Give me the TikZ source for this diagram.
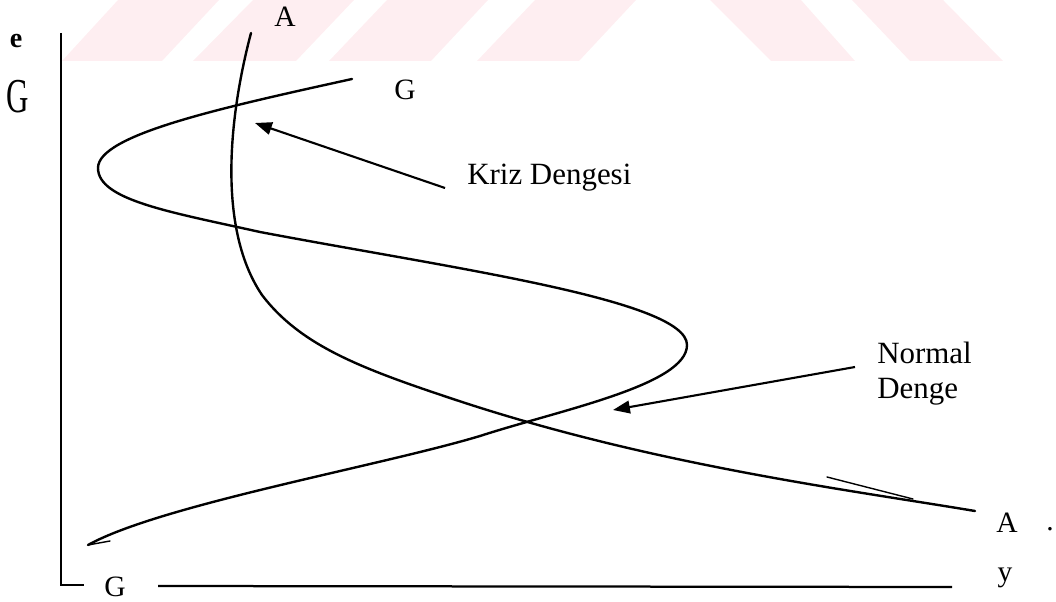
\documentclass[tikz,border=0pt]{standalone}
\usepackage{fontspec}
\usepackage{graphicx}
\setmainfont{Liberation Serif}
\usetikzlibrary{arrows.meta}
\definecolor{wmpink}{RGB}{254,238,241}
\tikzset{
  curve/.style={
    line width=1.7pt,
    line cap=round,
    line join=round
  },
  axisline/.style={line width=1.6pt},
  pointer/.style={
    -{Triangle[length=12pt,width=9pt]},
    line width=1.5pt
  },
  letter/.style={font=\fontsize{21}{24}\selectfont, inner sep=0pt},
  labeltext/.style={font=\fontsize{22}{25}\selectfont, inner sep=0pt, align=left},
  stripe/.style={fill=wmpink, draw=none}
}

\begin{document}
\begin{tikzpicture}[x=0.025cm, y=-0.025cm]
  \useasboundingbox (0,0) rectangle (1056,602);

  % watermark band
  \fill[stripe] (62,61) -- (118,0) -- (219,0) -- (162,61) -- cycle;
  \fill[stripe] (193,61) -- (253,0) -- (354,0) -- (296,61) -- cycle;
  \fill[stripe] (329,61) -- (387,0) -- (488,0) -- (431,61) -- cycle;
  \fill[stripe] (477,61) -- (535,0) -- (636,0) -- (579,61) -- cycle;
  \fill[stripe] (710,0) -- (801,0) -- (855,61) -- (771,61) -- cycle;
  \fill[stripe] (852,0) -- (943,0) -- (1003,61) -- (910,61) -- cycle;

  % axes
  \coordinate (top) at (61,33);
  \coordinate (origin) at (61,585);
  \coordinate (tick) at (84,585);
  \coordinate (xstart) at (158,586);
  \coordinate (xend) at (952,587);
  \draw[axisline] (top) -- (origin) -- (tick);
  \draw[axisline] (xstart) -- (xend);

  \node[letter, font=\bfseries\fontsize{20}{24}\selectfont] (e) at (16,41) {e};
  \node[letter] (gleft) at (18,97) {\scalebox{1.05}[1.65]{G}};
  \node[letter] (gbottom) at (115,587) {G};
  \node[letter] (y) at (1005,578) {y};
  \node[letter] (atop) at (285,17) {A};
  \node[letter] (gtop) at (405,90) {G};
  \node[letter] (aright) at (1007,523) {A};
  \node[letter] (dot) at (1050,529) {.};

  % AA curve
  \draw[curve] (251,33) .. controls (228,120) and (218,230) .. (262,295)
    .. controls (300,345) and (360,368) .. (450,398)
    .. controls (650,465) and (850,490) .. (975,511);
  \draw[curve, line width=1pt] (827,477) -- (913,499);

  % GG curve
  \draw[curve] (352,79) .. controls (220,108) and (98,135) .. (98,168)
    .. controls (98,200) and (170,212) .. (260,232)
    .. controls (450,268) and (687,300) .. (687,345)
    .. controls (687,385) and (560,410) .. (480,436)
    .. controls (380,466) and (160,505) .. (88,545);
  \draw[curve, line width=1pt] (88,545) -- (110,541);

  \node[labeltext, anchor=base west] (kriz) at (467,185) {Kriz Dengesi};
  \node[labeltext, anchor=north west] (normal) at (877,342) {Normal\\Denge};

  \coordinate (krizTip) at (255,123);
  \coordinate (normalTip) at (613,410);
  \draw[pointer] (kriz.base west) ++(-22,3) -- (krizTip);
  \draw[pointer] (normal.north west) ++(-22,25) -- (normalTip);
\end{tikzpicture}
\end{document}
